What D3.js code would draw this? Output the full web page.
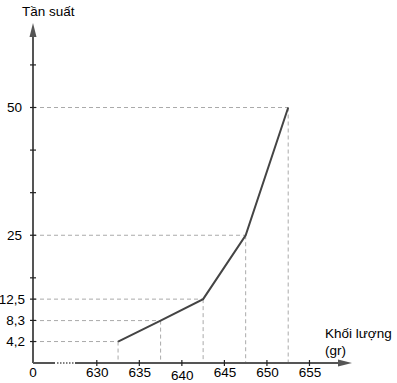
<!DOCTYPE html>
<html>
<head>
<meta charset="utf-8">
<script src="https://cdn.jsdelivr.net/npm/d3@7"></script>
<style>
  body { margin: 0; background: #fff; }
  svg { display: block; font-family: Arial, "Liberation Sans", sans-serif; }
</style>
</head>
<body>
<svg id="chart" width="397" height="383"></svg>
<script>
// ---- data ----
const xValues = [632.5, 637.5, 642.5, 647.5, 652.5];
const yValues = [4.2, 8.3, 12.5, 25, 50];
const xTickValues = [630, 635, 640, 645, 650, 655];
const xTickLabels = ["630", "635", "640", "645", "650", "655"];
const yLabelValues = [4.2, 8.3, 12.5, 25, 50];
const yLabelTexts = ["4,2", "8,3", "12,5", "25", "50"];
const yMinorTicks = [25/3, 50/3, 25, 100/3, 125/3, 50, 175/3];
const yTitle = "Tần suất";
const xTitle = ["Khối lượng", "(gr)"];
const originLabel = "0";

// ---- layout ----
const ox = 33, oy = 363;
const x = d3.scaleLinear().domain([622.5, 660]).range([ox, 352]);
const y = d3.scaleLinear().domain([0, 50]).range([oy, 107.5]);
const svg = d3.select("#chart");

const axisColor = "#555";
const gridColor = "#aaa";
const textColor = "#000";
const fs = 13.5;

// dashed guides
const pts = xValues.map((v, i) => [v, yValues[i]]);
svg.append("g").selectAll("line.h").data(pts).join("line")
  .attr("x1", ox).attr("x2", d => x(d[0]))
  .attr("y1", d => y(d[1])).attr("y2", d => y(d[1]))
  .attr("stroke", gridColor).attr("stroke-width", 1).attr("stroke-dasharray", "4,3");
svg.append("g").selectAll("line.v").data(pts).join("line")
  .attr("x1", d => x(d[0])).attr("x2", d => x(d[0]))
  .attr("y1", d => y(d[1])).attr("y2", oy)
  .attr("stroke", gridColor).attr("stroke-width", 1).attr("stroke-dasharray", "4,3");

// y axis line with arrow
svg.append("line").attr("x1", ox).attr("x2", ox).attr("y1", oy).attr("y2", 34)
  .attr("stroke", axisColor).attr("stroke-width", 2);
svg.append("path").attr("d", `M${ox},23 L${ox-3.5},37 L${ox+3.5},37 Z`).attr("fill", axisColor);

// x axis line with break and arrow
svg.append("line").attr("x1", ox).attr("x2", 55).attr("y1", oy).attr("y2", oy)
  .attr("stroke", axisColor).attr("stroke-width", 2);
svg.append("line").attr("x1", 57).attr("x2", 74).attr("y1", oy).attr("y2", oy)
  .attr("stroke", axisColor).attr("stroke-width", 1.5).attr("stroke-dasharray", "1.5,1.5");
svg.append("line").attr("x1", 75).attr("x2", 340).attr("y1", oy).attr("y2", oy)
  .attr("stroke", axisColor).attr("stroke-width", 2);
svg.append("path").attr("d", `M352,${oy} L338,${oy-3.5} L338,${oy+3.5} Z`).attr("fill", axisColor);

// tick crosses
svg.append("g").selectAll("line").data(yMinorTicks.concat([4.2, 12.5])).join("line")
  .attr("x1", ox - 3).attr("x2", ox + 3)
  .attr("y1", d => y(d)).attr("y2", d => y(d))
  .attr("stroke", "#222").attr("stroke-width", 1.2);
svg.append("g").selectAll("line").data(xTickValues).join("line")
  .attr("x1", d => x(d)).attr("x2", d => x(d))
  .attr("y1", oy - 3).attr("y2", oy + 3)
  .attr("stroke", "#222").attr("stroke-width", 1.2);

// axis labels via d3 axes
const yAxis = d3.axisLeft(y).tickValues(yLabelValues)
  .tickFormat((d, i) => yLabelTexts[i]).tickSize(0).tickPadding(8);
const yg = svg.append("g").attr("transform", `translate(${ox},0)`).call(yAxis);
yg.select(".domain").remove();
yg.selectAll("text").attr("font-size", fs).attr("fill", textColor)
  .attr("font-family", "Arial, 'Liberation Sans', sans-serif")
  .attr("dx", (d, i) => yLabelTexts[i].length <= 2 ? -3 : 0);

const xAxis = d3.axisBottom(x).tickValues(xTickValues)
  .tickFormat((d, i) => xTickLabels[i]).tickSize(0).tickPadding(4);
const xg = svg.append("g").attr("transform", `translate(0,${oy})`).call(xAxis);
xg.select(".domain").remove();
xg.selectAll("text").attr("font-size", fs).attr("fill", textColor)
  .attr("font-family", "Arial, 'Liberation Sans', sans-serif")
  .attr("dy", (d) => d === 640 ? "0.95em" : "0.71em");

svg.append("text").attr("x", ox).attr("y", 377).attr("text-anchor", "middle")
  .attr("font-size", fs).attr("fill", textColor).text(originLabel);

// titles
svg.append("text").attr("x", 22).attr("y", 16).attr("font-size", fs).attr("fill", textColor).text(yTitle);
svg.append("text").attr("x", 325).attr("y", 338).attr("font-size", fs).attr("fill", textColor).text(xTitle[0]);
svg.append("text").attr("x", 325).attr("y", 355).attr("font-size", fs).attr("fill", textColor).text(xTitle[1]);

// polygon line
svg.append("path").datum(pts)
  .attr("d", d3.line().x(d => x(d[0])).y(d => y(d[1])))
  .attr("fill", "none").attr("stroke", "#444").attr("stroke-width", 2);
</script>
</body>
</html>
